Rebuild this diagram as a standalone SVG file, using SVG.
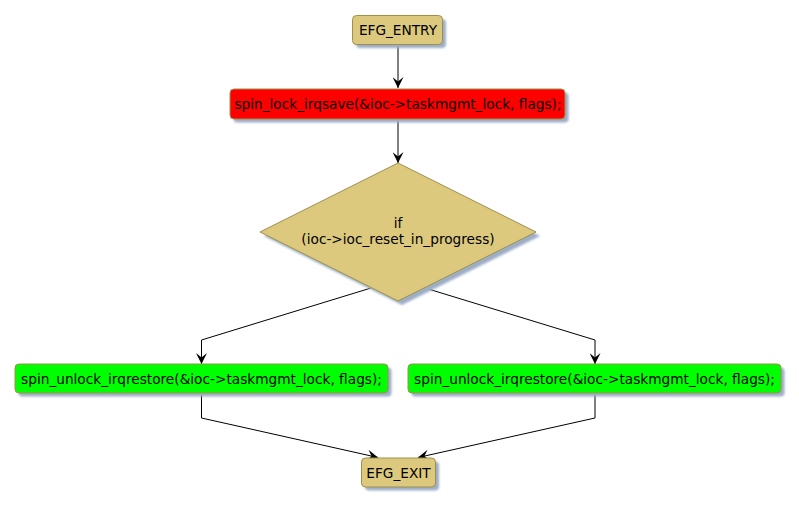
<svg xmlns="http://www.w3.org/2000/svg" width="799" height="507" viewBox="0 0 799 507">
<defs>
<filter id="sh" x="-10%" y="-10%" width="130%" height="140%"><feGaussianBlur stdDeviation="1.2"/></filter>
<marker id="ah" viewBox="0 0 10 10" refX="10" refY="5" markerWidth="11" markerHeight="11" markerUnits="userSpaceOnUse" orient="auto"><path d="M0,0 L10,5 L0,10 L4,5 Z" fill="#000"/></marker>
</defs>
<style>
.shadow{fill:#9DAEC8;filter:url(#sh)}
.khaki{fill:#DCC97E;stroke:#A08F4A;stroke-width:1}
.red{fill:#FF0000;stroke:#A08F4A;stroke-width:1}
.green{fill:#00FF00;stroke:#A08F4A;stroke-width:1}
text{font-family:"DejaVu Sans",sans-serif;font-size:13.7px;fill:#000;text-anchor:middle}
.edge{fill:none;stroke:#000;stroke-width:1;marker-end:url(#ah)}
</style>
<rect width="799" height="507" fill="#fff"/>
<g id="connectors">
<path class="edge" d="M398,45 L398,88"/>
<path class="edge" d="M398,119 L398,163"/>
<path class="edge" d="M371,288 L201.5,340 L201.5,364"/>
<path class="edge" d="M425,288 L595,340 L595,364"/>
<path class="edge" d="M201.5,393 L201.5,418 L378,457.5"/>
<path class="edge" d="M595,393 L595,418 L418,457.5"/>
</g>
<g id="entry">
<rect class="shadow" x="356" y="19" width="90" height="29" rx="4"/>
<rect class="khaki" x="352.5" y="15.5" width="90" height="29" rx="4"/>
<text x="398" y="35">EFG_ENTRY</text>
</g>
<g id="lock">
<rect class="shadow" x="233.5" y="92.5" width="335" height="30" rx="4"/>
<rect class="red" x="230" y="89" width="335" height="30" rx="4"/>
<text x="398" y="109">spin_lock_irqsave(&amp;ioc-&gt;taskmgmt_lock, flags);</text>
</g>
<g id="cond">
<polygon class="shadow" points="402,167 540,236 402,305 264,236"/>
<polygon class="khaki" points="398,163 536,232 398,301 260,232"/>
<text x="398" y="228">if</text>
<text x="398" y="244">(ioc-&gt;ioc_reset_in_progress)</text>
</g>
<g id="unlock1">
<rect class="shadow" x="18.5" y="367.5" width="373" height="29" rx="4"/>
<rect class="green" x="15" y="364" width="373" height="29" rx="4"/>
<text x="201.5" y="384">spin_unlock_irqrestore(&amp;ioc-&gt;taskmgmt_lock, flags);</text>
</g>
<g id="unlock2">
<rect class="shadow" x="411.5" y="367.5" width="373" height="29" rx="4"/>
<rect class="green" x="408" y="364" width="373" height="29" rx="4"/>
<text x="594.5" y="384">spin_unlock_irqrestore(&amp;ioc-&gt;taskmgmt_lock, flags);</text>
</g>
<g id="exit">
<rect class="shadow" x="365" y="461.5" width="74" height="29" rx="4"/>
<rect class="khaki" x="361.5" y="458" width="74" height="29" rx="4"/>
<text x="398.5" y="478">EFG_EXIT</text>
</g>
</svg>
